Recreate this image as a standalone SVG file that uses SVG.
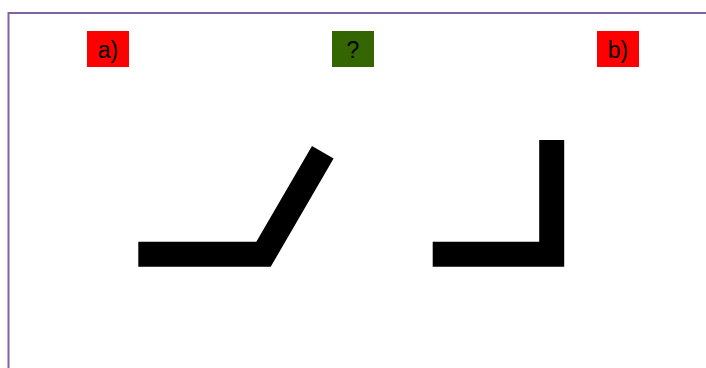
<svg xmlns="http://www.w3.org/2000/svg" width="706" height="368" viewBox="0 0 706 368">
  <style>
    .lbl { font-family: "Liberation Sans", Arial, sans-serif; font-size: 23px; fill: #000000; text-anchor: middle; }
    .red { fill: #ff0000; }
    .grn { fill: #336600; }
    .bar { fill: none; stroke: #000000; stroke-width: 25; stroke-linejoin: miter; stroke-linecap: butt; stroke-miterlimit: 10; }
  </style>
  <rect x="0" y="0" width="706" height="368" fill="#ffffff"/>
  <rect x="8.5" y="13" width="720" height="380" fill="none" stroke="#8064a2" stroke-width="2"/>
  <g id="label-a">
    <rect class="red" x="87" y="31" width="42" height="36"/>
    <text class="lbl" x="108" y="57.5">a)</text>
  </g>
  <g id="label-q">
    <rect class="grn" x="332" y="31" width="42" height="36"/>
    <text class="lbl" x="353" y="57.5">?</text>
  </g>
  <g id="label-b">
    <rect class="red" x="597" y="31" width="42" height="36"/>
    <text class="lbl" x="618" y="57.5">b)</text>
  </g>
  <g id="shape-a">
    <polyline class="bar" points="138.3,254.3 263.5,254.3 322.8,152.2"/>
  </g>
  <g id="shape-b">
    <polyline class="bar" points="432.7,254.3 551.7,254.3 551.7,140"/>
  </g>
</svg>
